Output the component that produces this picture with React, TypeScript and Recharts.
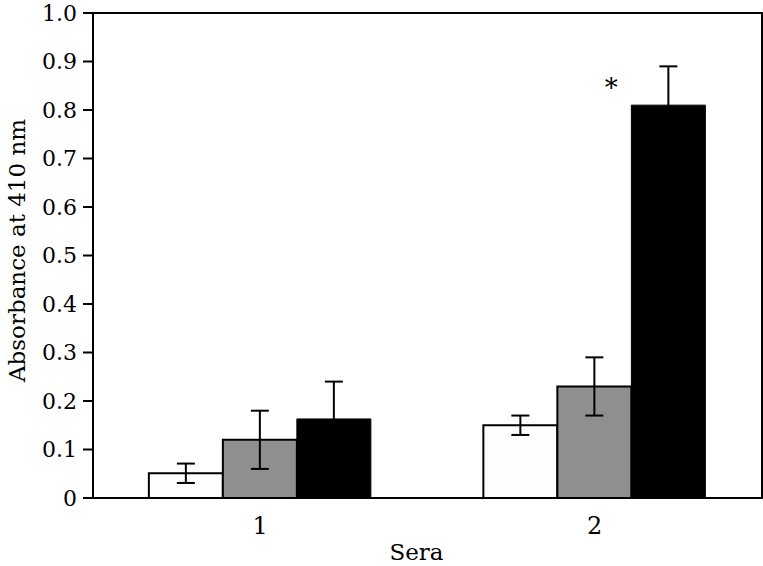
import { Bar, BarChart, ErrorBar, LabelList, ReferenceArea, XAxis, YAxis } from "recharts"

const categories = ["1", "2"]
const whiteValues = [0.051, 0.15]
const whiteErrors = [0.02, 0.02]
const grayValues = [0.12, 0.23]
const grayErrors = [0.06, 0.06]
const blackValues = [0.163, 0.81]
const blackErrors = [0.077, 0.08]
const yTicks = [0, 0.1, 0.2, 0.3, 0.4, 0.5, 0.6, 0.7, 0.8, 0.9, 1.0]
const starredIndex = 1

const FONT = "'DejaVu Serif', serif"

const chartData = categories.map((name, i) => ({
  name,
  white: whiteValues[i],
  whiteErr: whiteErrors[i],
  gray: grayValues[i],
  grayErr: grayErrors[i],
  black: blackValues[i],
  blackErr: blackErrors[i],
}))

const formatTick = (v: number) => (v === 0 ? "0" : v.toFixed(1))

// asterisk next to the significant bar
const Star = (props: any) => {
  const { x, y, index } = props
  if (index !== starredIndex) return null
  return (
    <text x={x - 20} y={y - 8} textAnchor="middle" style={{ fontFamily: FONT, fontSize: 26 }} fill="#000">
      *
    </text>
  )
}

const YLabel = (props: any) => {
  const { viewBox } = props
  const cx = viewBox.x + 17
  const cy = viewBox.y + viewBox.height / 2 - 5
  return (
    <text
      x={cx}
      y={cy}
      transform={`rotate(-90, ${cx}, ${cy})`}
      textAnchor="middle"
      dominantBaseline="central"
      style={{ fontFamily: FONT, fontSize: 23 }}
      fill="#000"
    >
      Absorbance at 410 nm
    </text>
  )
}

const XLabel = (props: any) => {
  const { viewBox } = props
  return (
    <text
      x={viewBox.x + viewBox.width / 2 - 11}
      y={viewBox.y + 62}
      textAnchor="middle"
      style={{ fontFamily: FONT, fontSize: 23 }}
      fill="#000"
    >
      Sera
    </text>
  )
}

export default function App() {
  return (
    <div style={{ position: "absolute", left: 0, top: 0, background: "#fff", fontFamily: FONT }}>
      <BarChart
        width={763}
        height={566}
        data={chartData}
        margin={{ top: 13, right: 1, bottom: 0, left: 0 }}
        barCategoryGap="16.7%"
        barGap={0}
        style={{ fontFamily: FONT }}
      >
        <ReferenceArea y1={0} y2={1} fill="none" stroke="#000" strokeWidth={2} ifOverflow="visible" />
        <XAxis
          dataKey="name"
          height={68}
          axisLine={{ stroke: "#000", strokeWidth: 2 }}
          tickLine={false}
          tickMargin={13}
          tick={{ fill: "#000", fontSize: 24, fontFamily: FONT }}
          label={<XLabel />}
        />
        <YAxis
          width={93}
          domain={[0, 1]}
          ticks={yTicks}
          interval={0}
          tickFormatter={formatTick}
          axisLine={{ stroke: "#000", strokeWidth: 2 }}
          tickLine={{ stroke: "#000", strokeWidth: 2 }}
          tickSize={10}
          tickMargin={6}
          tick={{ fill: "#000", fontSize: 22, fontFamily: FONT }}
          label={<YLabel />}
        />
        <Bar dataKey="white" fill="#fdfdfd" stroke="#000" strokeWidth={2} isAnimationActive={false}>
          <ErrorBar dataKey="whiteErr" width={9} stroke="#000" strokeWidth={2} />
        </Bar>
        <Bar dataKey="gray" fill="#8f8f8f" stroke="#000" strokeWidth={2} isAnimationActive={false}>
          <ErrorBar dataKey="grayErr" width={9} stroke="#000" strokeWidth={2} />
        </Bar>
        <Bar dataKey="black" fill="#000" stroke="#000" strokeWidth={1} isAnimationActive={false}>
          <ErrorBar dataKey="blackErr" width={9} stroke="#000" strokeWidth={2} />
          <LabelList dataKey="black" content={<Star />} />
        </Bar>
      </BarChart>
    </div>
  )
}
